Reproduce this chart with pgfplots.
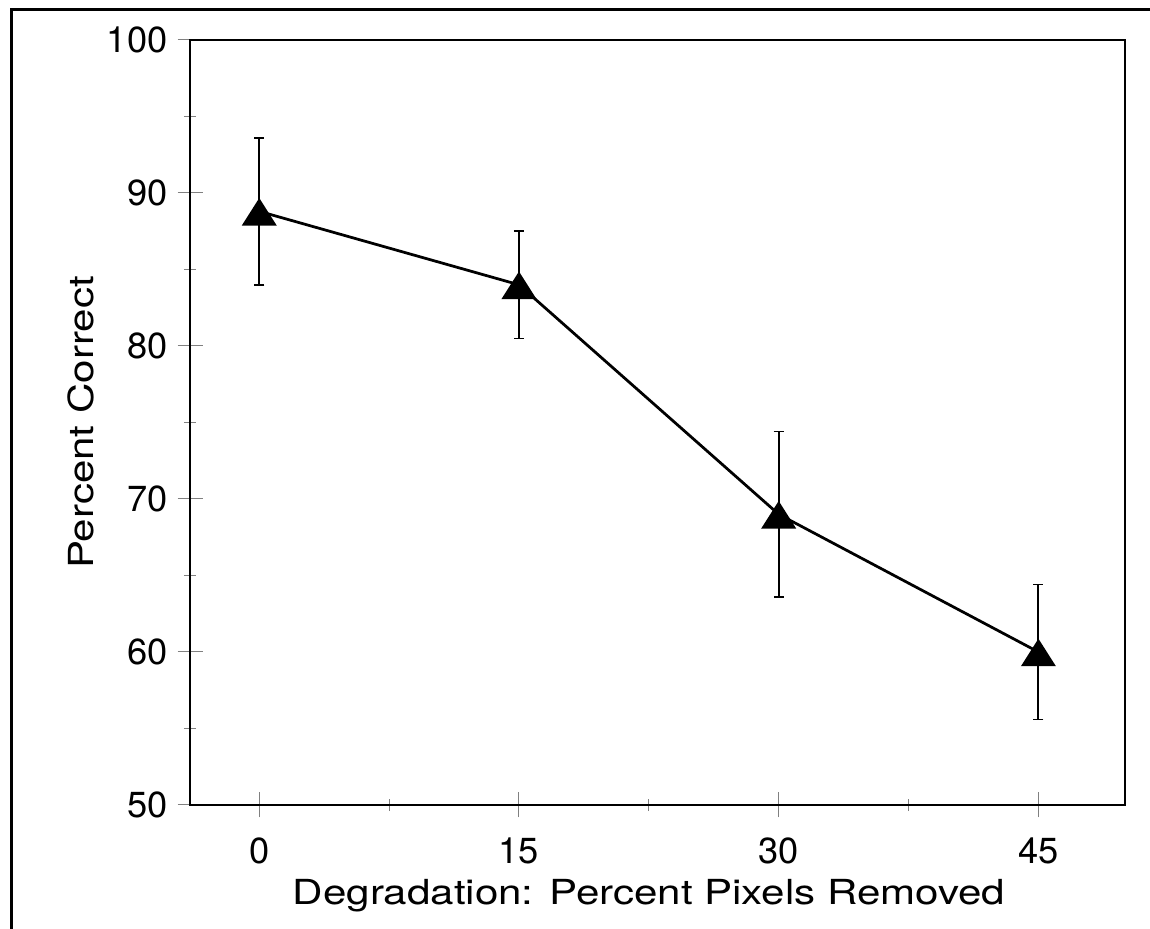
\documentclass[border=0pt]{standalone}
\usepackage{fontspec}
\setmainfont{TeX Gyre Heros}
\newfontfamily\lblfont[FakeStretch=1.22]{TeX Gyre Heros}
\usepackage{pgfplots}
\pgfplotsset{compat=1.18}

\begin{document}
\fontsize{14.5}{17}\selectfont
\begin{tikzpicture}
% page = 1150 x 929 px at 0.4pt per px, axis box at (190,40)-(1125,805)
\useasboundingbox (-76pt,-49.6pt) rectangle (384pt,322pt);
\draw[line width=1.2pt] (-71.2pt,-60pt) -- (-71.2pt,318pt) -- (400pt,318pt);
\begin{axis}[
  at={(0,0)}, anchor=south west,
  scale only axis, width=374pt, height=306pt,
  xmin=-4, xmax=50, ymin=50, ymax=100,
  xtick={0,15,30,45}, ytick={50,60,...,100},
  minor tick num=1,
  tick pos=left, tick align=center,
  major tick length=10pt, minor tick length=5pt,
  every tick/.style={gray, line width=0.4pt},
  axis line style={black, line width=1pt},
  /pgf/number format/assume math mode=true,
  tick label style={font=\fontsize{14.5}{17}\selectfont},
  label style={font=\lblfont\fontsize{13.8}{16}\selectfont},
  xticklabel style={yshift=-3pt},
  yticklabel style={xshift=1pt},
  xlabel={Degradation: Percent Pixels Removed},
  ylabel={Percent Correct},
  x label style={at={(axis description cs:0.491,-0.1307)}, anchor=base},
  y label style={at={(axis description cs:-0.1037,0.5)}, anchor=base},
]
\addplot[black, line width=1.1pt, mark=triangle*, mark size=6.3pt,
  mark options={solid, fill=black, xscale=1.1, yshift=-2pt},
  error bars/.cd, y dir=both, y explicit,
  error mark=|, error mark options={mark size=2pt, line width=0.6pt, black},
  error bar style={line width=0.8pt, black}]
  coordinates {
    (0,88.8)  +- (0,4.8)
    (15,84.0) +- (0,3.5)
    (30,69.0) +- (0,5.4)
    (45,60.0) +- (0,4.4)
  };
\end{axis}
\end{tikzpicture}
\end{document}
